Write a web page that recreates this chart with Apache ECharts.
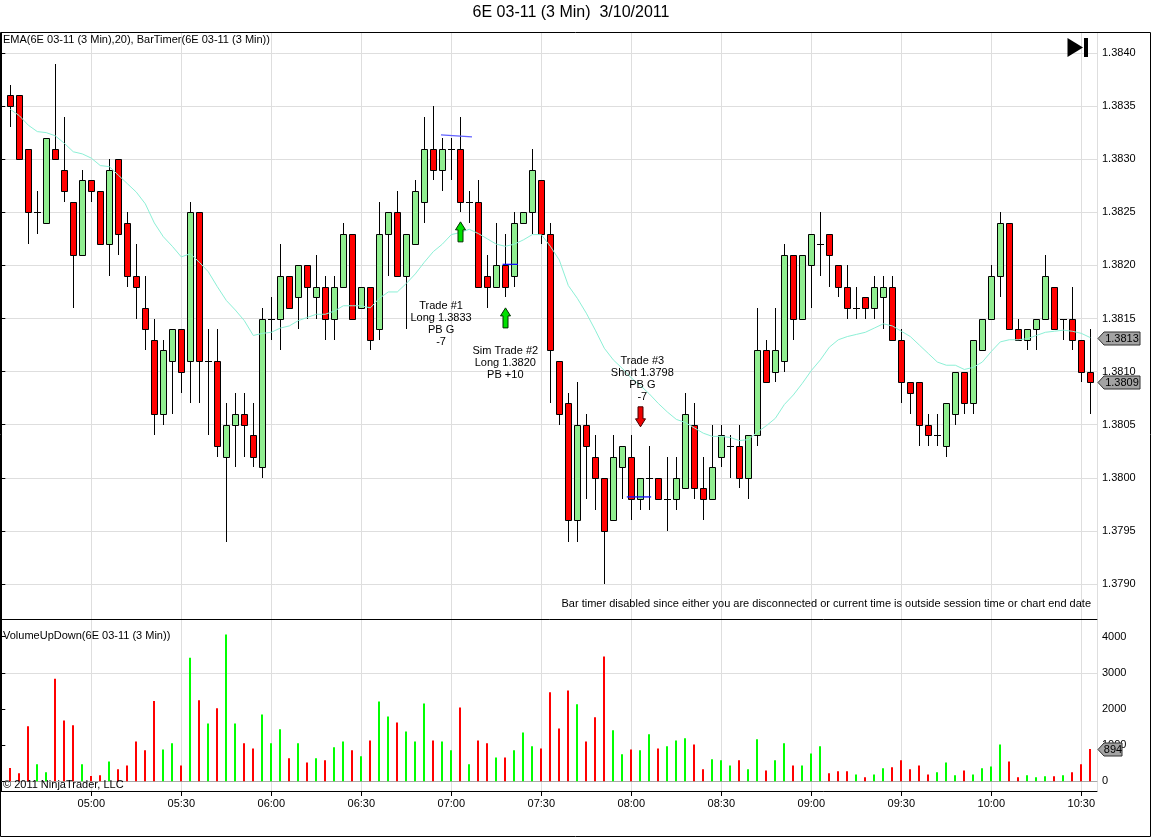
<!DOCTYPE html>
<html><head><meta charset="utf-8">
<script src="https://cdn.jsdelivr.net/npm/echarts@6/dist/echarts.min.js"></script>
<style>html,body{margin:0;padding:0;background:#fff}#chart{width:1151px;height:837px}</style>
</head><body><div id="chart"></div>
<script>
// ---------- DATA ----------
const timeLabels = ['05:00','05:30','06:00','06:30','07:00','07:30','08:00','08:30','09:00','09:30','10:00','10:30'];
const priceTicks = [1.3790,1.3795,1.3800,1.3805,1.3810,1.3815,1.3820,1.3825,1.3830,1.3835,1.3840];
const volumeTicks = [0,1000,2000,3000,4000];

const opens = [1.3836,1.3836,1.3831,1.3825,1.3824,1.3831,1.3829,1.3826,1.3821,1.3828,
1.3827,1.3822,1.3830,1.3824,1.3819,1.3816,1.3813,1.3806,1.3811,1.3814,
1.3811,1.3825,1.3811,1.3811,1.3802,1.3805,1.3806,1.3804,1.3801,1.3815,
1.3815,1.3819,1.3817,1.3820,1.3817,1.3818,1.3815,1.3818,1.3823,1.3816,
1.3818,1.3814,1.3823,1.3825,1.3819,1.3822,1.3826,1.3831,1.3829,1.3831,
1.3831,1.3826,1.3826,1.3819,1.3818,1.3820,1.3819,1.3824,1.3825,1.3828,
1.3823,1.3811,1.3807,1.3796,1.3805,1.3802,1.3800,1.3796,1.3801,1.3802,
1.3798,1.3800,1.3800,1.3798,1.3798,1.3799,1.3805,1.3799,1.3798,1.3802,
1.3803,1.3803,1.3800,1.3804,1.3812,1.3810,1.3811,1.3821,1.3815,1.3820,
1.3822,1.3823,1.3820,1.3818,1.3816,1.3817,1.3816,1.3817,1.3818,1.3813,
1.3809,1.3809,1.3805,1.3804,1.3803,1.3806,1.3810,1.3807,1.3812,1.3815,
1.3819,1.3824,1.3814,1.3813,1.3814,1.3815,1.3818,1.3815,1.3815,1.3813,
1.3810];
const highs = [1.3837,1.3836,1.3831,1.3827,1.3832,1.3839,1.3834,1.3826,1.3829,1.3828,
1.3827,1.3830,1.3830,1.3825,1.3822,1.3819,1.3815,1.3813,1.3814,1.3814,
1.3826,1.3825,1.3814,1.3814,1.3807,1.3808,1.3808,1.3807,1.3816,1.3817,
1.3822,1.3819,1.3820,1.3820,1.3821,1.3819,1.3819,1.3824,1.3823,1.3818,
1.3818,1.3826,1.3825,1.3827,1.3823,1.3828,1.3834,1.3835,1.3832,1.3832,
1.3834,1.3827,1.3828,1.3821,1.3824,1.3823,1.3825,1.3825,1.3831,1.3828,
1.3824,1.3811,1.3808,1.3809,1.3806,1.3804,1.3800,1.3804,1.3803,1.3804,
1.3800,1.3803,1.3800,1.3802,1.3802,1.3808,1.3807,1.3802,1.3805,1.3805,
1.3804,1.3805,1.3804,1.3816,1.3813,1.3816,1.3822,1.3821,1.3821,1.3823,
1.3825,1.3823,1.3820,1.3820,1.3818,1.3817,1.3819,1.3819,1.3819,1.3814,
1.3809,1.3809,1.3806,1.3806,1.3807,1.3810,1.3810,1.3813,1.3815,1.3820,
1.3825,1.3824,1.3815,1.3814,1.3815,1.3821,1.3818,1.3815,1.3818,1.3813,
1.3814];
const lows = [1.3833,1.3830,1.3822,1.3823,1.3824,1.3830,1.3826,1.3816,1.3821,1.3826,
1.3822,1.3819,1.3821,1.3818,1.3815,1.3812,1.3804,1.3805,1.3806,1.3808,
1.3807,1.3807,1.3804,1.3802,1.3794,1.3801,1.3802,1.3801,1.3800,1.3813,
1.3812,1.3816,1.3814,1.3815,1.3815,1.3813,1.3813,1.3818,1.3815,1.3816,
1.3812,1.3813,1.3819,1.3819,1.3814,1.3822,1.3824,1.3828,1.3827,1.3828,
1.3825,1.3824,1.3818,1.3816,1.3818,1.3817,1.3818,1.3824,1.3823,1.3822,
1.3807,1.3805,1.3794,1.3794,1.3798,1.3797,1.3790,1.3796,1.3798,1.3796,
1.3797,1.3797,1.3798,1.3795,1.3797,1.3799,1.3798,1.3796,1.3798,1.3801,
1.3800,1.3799,1.3798,1.3803,1.3809,1.3809,1.3810,1.3813,1.3815,1.3816,
1.3819,1.3818,1.3817,1.3815,1.3815,1.3815,1.3815,1.3814,1.3813,1.3807,
1.3806,1.3803,1.3803,1.3803,1.3802,1.3805,1.3806,1.3806,1.3812,1.3815,
1.3817,1.3814,1.3813,1.3812,1.3812,1.3815,1.3814,1.3813,1.3812,1.3809,
1.3806];
const closes = [1.3835,1.3830,1.3825,1.3825,1.3832,1.3830,1.3827,1.3821,1.3828,1.3827,
1.3822,1.3829,1.3823,1.3819,1.3818,1.3814,1.3806,1.3812,1.3814,1.3810,
1.3825,1.3811,1.3811,1.3803,1.3805,1.3806,1.3805,1.3802,1.3815,1.3815,
1.3819,1.3816,1.3820,1.3818,1.3818,1.3815,1.3818,1.3823,1.3815,1.3818,
1.3813,1.3823,1.3825,1.3819,1.3823,1.3827,1.3831,1.3829,1.3831,1.3831,
1.3826,1.3826,1.3818,1.3818,1.3820,1.3818,1.3824,1.3825,1.3829,1.3823,
1.3812,1.3806,1.3796,1.3805,1.3803,1.3800,1.3795,1.3802,1.3803,1.3798,
1.3800,1.3800,1.3798,1.3798,1.3800,1.3806,1.3799,1.3798,1.3801,1.3804,
1.3803,1.3800,1.3804,1.3812,1.3809,1.3812,1.3821,1.3815,1.3821,1.3823,
1.3822,1.3821,1.3818,1.3816,1.3816,1.3816,1.3818,1.3818,1.3813,1.3809,
1.3808,1.3805,1.3804,1.3804,1.3807,1.3810,1.3807,1.3813,1.3815,1.3819,
1.3824,1.3814,1.3813,1.3814,1.3815,1.3819,1.3814,1.3815,1.3813,1.3810,
1.3809];
const emaValues = [1.38347,1.38341,1.38332,1.38326,1.38325,1.38322,1.38315,1.38307,1.38305,1.38301,
1.38294,1.38293,1.38285,1.38277,1.38269,1.38258,1.38240,1.38227,1.38218,1.38208,
1.38211,1.38203,1.38194,1.38180,1.38167,1.38158,1.38148,1.38134,1.38136,1.38137,
1.38141,1.38143,1.38148,1.38151,1.38154,1.38154,1.38157,1.38162,1.38162,1.38162,
1.38160,1.38169,1.38175,1.38175,1.38183,1.38192,1.38203,1.38213,1.38220,1.38229,
1.38231,1.38234,1.38230,1.38225,1.38220,1.38218,1.38220,1.38224,1.38229,1.38229,
1.38218,1.38205,1.38181,1.38169,1.38155,1.38139,1.38122,1.38111,1.38103,1.38094,
1.38087,1.38079,1.38070,1.38062,1.38055,1.38052,1.38047,1.38042,1.38039,1.38039,
1.38038,1.38035,1.38036,1.38043,1.38049,1.38056,1.38069,1.38078,1.38089,1.38101,
1.38111,1.38123,1.38130,1.38133,1.38135,1.38137,1.38141,1.38145,1.38143,1.38138,
1.38133,1.38125,1.38117,1.38109,1.38106,1.38106,1.38102,1.38104,1.38109,1.38119,
1.38128,1.38130,1.38130,1.38131,1.38134,1.38137,1.38138,1.38139,1.38138,1.38136,
1.38132];
const volumes = [370,220,1520,470,250,2840,1680,1550,470,150,
170,550,330,440,1100,860,2220,880,1050,440,
3420,2240,1600,2020,4060,1600,1050,910,1850,1050,
1440,640,1050,520,640,580,940,1100,860,690,
1130,2210,1790,1630,1380,1100,2150,1130,1100,860,
2040,470,1130,1050,660,660,860,1350,970,910,
2460,1460,2510,2130,1100,1770,3450,1410,750,880,
860,1300,910,970,1130,1190,1020,330,610,580,
440,580,330,1160,300,580,1050,440,440,770,
970,220,280,280,190,110,190,360,390,580,
330,440,190,250,520,170,300,190,360,410,
1020,550,110,170,110,140,140,170,250,470,
894];

// trade annotations (bar index, price at top of text block, text)
const noteBars = [47.86, 55.0, 70.22];
const notePrices = [1.38167, 1.38125, 1.38116];
const noteTexts = ['Trade #1\nLong 1.3833\nPB G\n-7', 'Sim Trade #2\nLong 1.3820\nPB +10', 'Trade #3\nShort 1.3798\nPB G\n-7'];
// signal arrows (bar index, tip price, direction 1=up -1=down)
const arrowBars = [50, 55, 70];
const arrowPrices = [1.38241, 1.38160, 1.38048];
const arrowDirs = [1, 1, -1];
// entry marker lines (start bar, start price, end bar, end price)
const entryStartBars = [47.85, 54.7, 68.5];
const entryStartPrices = [1.38323, 1.38201, 1.37982];
const entryEndBars = [51.3, 56.4, 71.2];
const entryEndPrices = [1.38321, 1.38201, 1.37982];

// ---------- CHART ----------
const FONT = '11px "Liberation Sans", Arial, sans-serif';
const GRID_L = 1.3, GRID_R = 54;
const XMAX = 121.74;
const xv = i => i + 1; // bar index -> axis value (1 unit = 3 minutes from 04:30)

const candleData = opens.map((o, i) => [xv(i), o, closes[i], lows[i], highs[i]]);
const emaData = emaValues.map((e, i) => [xv(i), e]);
const volData = volumes.map((v, i) => [xv(i), v, closes[i] >= opens[i] ? 1 : 0]);
const noteData = noteBars.map((b, i) => [xv(b), notePrices[i], i]);
const arrowData = arrowBars.map((b, i) => [xv(b), arrowPrices[i], arrowDirs[i]]);
const entryData = entryStartBars.map((b, i) => [xv(b), entryStartPrices[i], xv(entryEndBars[i]), entryEndPrices[i], i]);
const last = opens.length - 1;

function renderCandle(params, api) {
  const v = api.value(0), o = api.value(1), c = api.value(2), l = api.value(3), h = api.value(4);
  const pH = api.coord([v, h]), pL = api.coord([v, l]), pO = api.coord([v, o]), pC = api.coord([v, c]);
  const cx = Math.round(pH[0]) + 0.5;
  const children = [{
    type: 'line',
    shape: { x1: cx, y1: Math.round(pH[1]), x2: cx, y2: Math.round(pL[1]) },
    style: { stroke: '#000', lineWidth: 1 }
  }];
  if (o === c) {
    const y = Math.round(pO[1]) + 0.5;
    children.push({ type: 'line', shape: { x1: cx - 3.5, y1: y, x2: cx + 3.5, y2: y }, style: { stroke: '#000', lineWidth: 1 } });
  } else {
    const top = Math.round(Math.min(pO[1], pC[1])) + 0.5;
    const bot = Math.round(Math.max(pO[1], pC[1])) + 0.5;
    children.push({
      type: 'rect',
      shape: { x: cx - 3, y: top, width: 6, height: bot - top },
      style: { fill: c > o ? '#90ee90' : '#ff0000', stroke: '#000', lineWidth: 1 }
    });
  }
  return { type: 'group', children };
}

function renderVol(params, api) {
  const v = api.value(0), vol = api.value(1), up = api.value(2);
  const p0 = api.coord([v, 0]), p1 = api.coord([v, vol]);
  const x = Math.round(p0[0]) - 1;
  return { type: 'rect', shape: { x: x, y: p1[1], width: 2, height: p0[1] - p1[1] },
    style: { fill: up ? '#00ff00' : '#ff0000' } };
}

function renderNote(params, api) {
  const p = api.coord([api.value(0), api.value(1)]);
  return { type: 'text', x: p[0], y: p[1],
    style: { text: noteTexts[api.value(2)], font: FONT, fill: '#000', align: 'center', verticalAlign: 'top', lineHeight: 12 } };
}

function renderArrow(params, api) {
  const p = api.coord([api.value(0), api.value(1)]);
  const d = api.value(2);
  const cx = Math.round(p[0]) + 0.5, ty = p[1];
  const s = d > 0 ? 1 : -1;
  const pts = [[cx, ty], [cx + 5, ty + 8 * s], [cx + 2.5, ty + 8 * s], [cx + 2.5, ty + 20 * s],
               [cx - 2.5, ty + 20 * s], [cx - 2.5, ty + 8 * s], [cx - 5, ty + 8 * s]];
  return { type: 'polygon', shape: { points: pts },
    style: { fill: d > 0 ? '#00e000' : '#ee0000', stroke: d > 0 ? '#003000' : '#400000', lineWidth: 1 } };
}

function renderEntry(params, api) {
  const a = api.coord([api.value(0), api.value(1)]);
  const b = api.coord([api.value(2), api.value(3)]);
  return { type: 'line', shape: { x1: a[0], y1: a[1], x2: b[0], y2: b[1] },
    style: { stroke: api.value(4) === 0 ? '#6262ff' : '#1010ff', lineWidth: 1.3 } };
}

function renderTag(params, api) {
  const cs = params.coordSys;
  const x0 = cs.x + cs.width + 1;
  const val = api.value(1);
  const dec = api.value(2);
  const label = dec > 0 ? val.toFixed(dec) : String(Math.round(val));
  const y = Math.round(api.coord([api.value(0), val])[1]) + 0.5;
  const w = label.length * 6 + 6;
  return { type: 'group', children: [
    { type: 'polygon', shape: { points: [[x0, y], [x0 + 6, y - 6.5], [x0 + w, y - 6.5], [x0 + w, y + 6.5], [x0 + 6, y + 6.5]] },
      style: { fill: '#a3a3a3', stroke: '#303030', lineWidth: 1 } },
    { type: 'text', x: x0 + 6 + (w - 6) / 2, y: y,
      style: { text: label, font: FONT, fill: '#000', align: 'center', verticalAlign: 'middle' } }
  ] };
}

const chart = echarts.init(document.getElementById('chart'));

const xBase = { type: 'value', min: 0, max: XMAX, interval: 10 };
const noAxis = { axisLine: { show: false }, axisTick: { show: false }, axisLabel: { show: false }, splitLine: { show: false } };

chart.setOption({
  animation: false,
  backgroundColor: '#fff',
  grid: [
    { left: GRID_L, right: GRID_R, top: 53, height: 531 },      // price
    { left: GRID_L, right: GRID_R, top: 636.7, height: 144.6 }, // volume
    { left: GRID_L, right: GRID_R, top: 33, height: 586 },      // price panel frame
    { left: GRID_L, right: GRID_R, top: 620, height: 171 }      // volume panel frame
  ],
  xAxis: [
    Object.assign({ gridIndex: 0, show: false }, xBase),
    Object.assign({ gridIndex: 1, axisLine: { show: true, onZero: false, lineStyle: { color: '#a8a8a8', width: 1 } },
      axisTick: { show: false }, axisLabel: { show: false }, splitLine: { show: false } }, xBase),
    Object.assign({ gridIndex: 2, axisLine: { show: true, onZero: false, lineStyle: { color: '#000', width: 1 } },
      axisTick: { show: false }, axisLabel: { show: false },
      splitLine: { show: true, lineStyle: { color: '#dedede', width: 1 } } }, xBase),
    Object.assign({ gridIndex: 3, axisLine: { show: true, onZero: false, lineStyle: { color: '#000', width: 1 } },
      axisTick: { show: true, length: 5, lineStyle: { color: '#000' } },
      axisLabel: { show: true, margin: 7, color: '#000', fontSize: 11, fontFamily: '"Liberation Sans", Arial, sans-serif',
        showMinLabel: false, showMaxLabel: false,
        formatter: v => (v > 0 && v % 10 === 0 && v / 10 <= timeLabels.length) ? timeLabels[v / 10 - 1] : '' },
      splitLine: { show: true, lineStyle: { color: '#dedede', width: 1 } } }, xBase)
  ],
  yAxis: [
    { gridIndex: 0, type: 'value', position: 'right', min: priceTicks[0], max: priceTicks[priceTicks.length - 1], interval: 0.0005,
      axisLine: { show: false }, axisTick: { show: true, length: 4, lineStyle: { color: '#000' } },
      axisLabel: { show: true, margin: 5, color: '#000', fontSize: 11, fontFamily: '"Liberation Sans", Arial, sans-serif', formatter: v => v.toFixed(4) },
      splitLine: { show: true, lineStyle: { color: '#dedede', width: 1 } } },
    { gridIndex: 1, type: 'value', position: 'right', min: volumeTicks[0], max: volumeTicks[volumeTicks.length - 1], interval: 1000,
      axisLine: { show: false }, axisTick: { show: true, length: 4, lineStyle: { color: '#000' } },
      axisLabel: { show: true, margin: 5, color: '#000', fontSize: 11, fontFamily: '"Liberation Sans", Arial, sans-serif', formatter: v => String(Math.round(v)) },
      splitLine: { show: true, lineStyle: { color: ['rgba(0,0,0,0)', 'rgba(0,0,0,0)', 'rgba(0,0,0,0)', '#dedede', 'rgba(0,0,0,0)'], width: 1 } } },
    Object.assign({ gridIndex: 2, type: 'value', position: 'right', min: 0, max: 1 }, noAxis,
      { axisLine: { show: true, lineStyle: { color: '#000', width: 1 } } }),
    Object.assign({ gridIndex: 3, type: 'value', position: 'right', min: 0, max: 1 }, noAxis,
      { axisLine: { show: true, lineStyle: { color: '#000', width: 1 } } })
  ],
  series: [
    { type: 'custom', name: 'Candles', xAxisIndex: 0, yAxisIndex: 0, clip: false, silent: true, z: 3,
      renderItem: renderCandle, encode: { x: 0, y: [1, 2, 3, 4] }, data: candleData },
    { type: 'line', name: 'EMA', xAxisIndex: 0, yAxisIndex: 0, silent: true, z: 4, symbol: 'none', showSymbol: false,
      lineStyle: { color: '#8cf0d6', width: 1 }, data: emaData },
    { type: 'custom', name: 'Entries', xAxisIndex: 0, yAxisIndex: 0, clip: false, silent: true, z: 5,
      renderItem: renderEntry, encode: { x: [0, 2], y: [1, 3] }, data: entryData },
    { type: 'custom', name: 'Arrows', xAxisIndex: 0, yAxisIndex: 0, clip: false, silent: true, z: 5,
      renderItem: renderArrow, encode: { x: 0, y: 1 }, data: arrowData },
    { type: 'custom', name: 'Notes', xAxisIndex: 0, yAxisIndex: 0, clip: false, silent: true, z: 5,
      renderItem: renderNote, encode: { x: 0, y: 1 }, data: noteData },
    { type: 'custom', name: 'PriceTags', xAxisIndex: 0, yAxisIndex: 0, clip: false, silent: true, z: 6,
      renderItem: renderTag, encode: { x: 0, y: 1 }, data: [[xv(last), emaValues[last], 4], [xv(last), closes[last], 4]] },
    { type: 'custom', name: 'Volume', xAxisIndex: 1, yAxisIndex: 1, clip: false, silent: true, z: 3,
      renderItem: renderVol, encode: { x: 0, y: 1 }, data: volData },
    { type: 'custom', name: 'VolTag', xAxisIndex: 1, yAxisIndex: 1, clip: false, silent: true, z: 6,
      renderItem: renderTag, encode: { x: 0, y: 1 }, data: [[xv(last), volumes[last], 0]] }
  ],
  graphic: [
    { type: 'rect', z: 20, silent: true, shape: { x: 0.5, y: 32.5, width: 1150, height: 804 }, style: { fill: 'none', stroke: '#000', lineWidth: 1 } },
    { type: 'text', z: 20, silent: true, x: 571, y: 13, style: { text: '6E 03-11 (3 Min)  3/10/2011', font: '16px "Liberation Sans", Arial, sans-serif', fill: '#000', align: 'center', verticalAlign: 'middle' } },
    { type: 'text', z: 20, silent: true, x: 3, y: 40, style: { text: 'EMA(6E 03-11 (3 Min),20), BarTimer(6E 03-11 (3 Min))', font: FONT, fill: '#000', verticalAlign: 'middle' } },
    { type: 'text', z: 20, silent: true, x: 1091, y: 604, style: { text: 'Bar timer disabled since either you are disconnected or current time is outside session time or chart end date', font: FONT, fill: '#000', align: 'right', verticalAlign: 'middle' } },
    { type: 'text', z: 20, silent: true, x: 3, y: 636, style: { text: 'VolumeUpDown(6E 03-11 (3 Min))', font: FONT, fill: '#000', verticalAlign: 'middle' } },
    { type: 'text', z: 20, silent: true, x: 3, y: 785, style: { text: '\u00a9 2011 NinjaTrader, LLC', font: FONT, fill: '#000', verticalAlign: 'middle' } },
    { type: 'polygon', z: 20, silent: true, shape: { points: [[1067.5, 38], [1067.5, 57], [1083, 47.5]] }, style: { fill: '#000' } },
    { type: 'rect', z: 20, silent: true, shape: { x: 1084, y: 38, width: 4, height: 19 }, style: { fill: '#000' } }
  ]
});
</script>
</body></html>
